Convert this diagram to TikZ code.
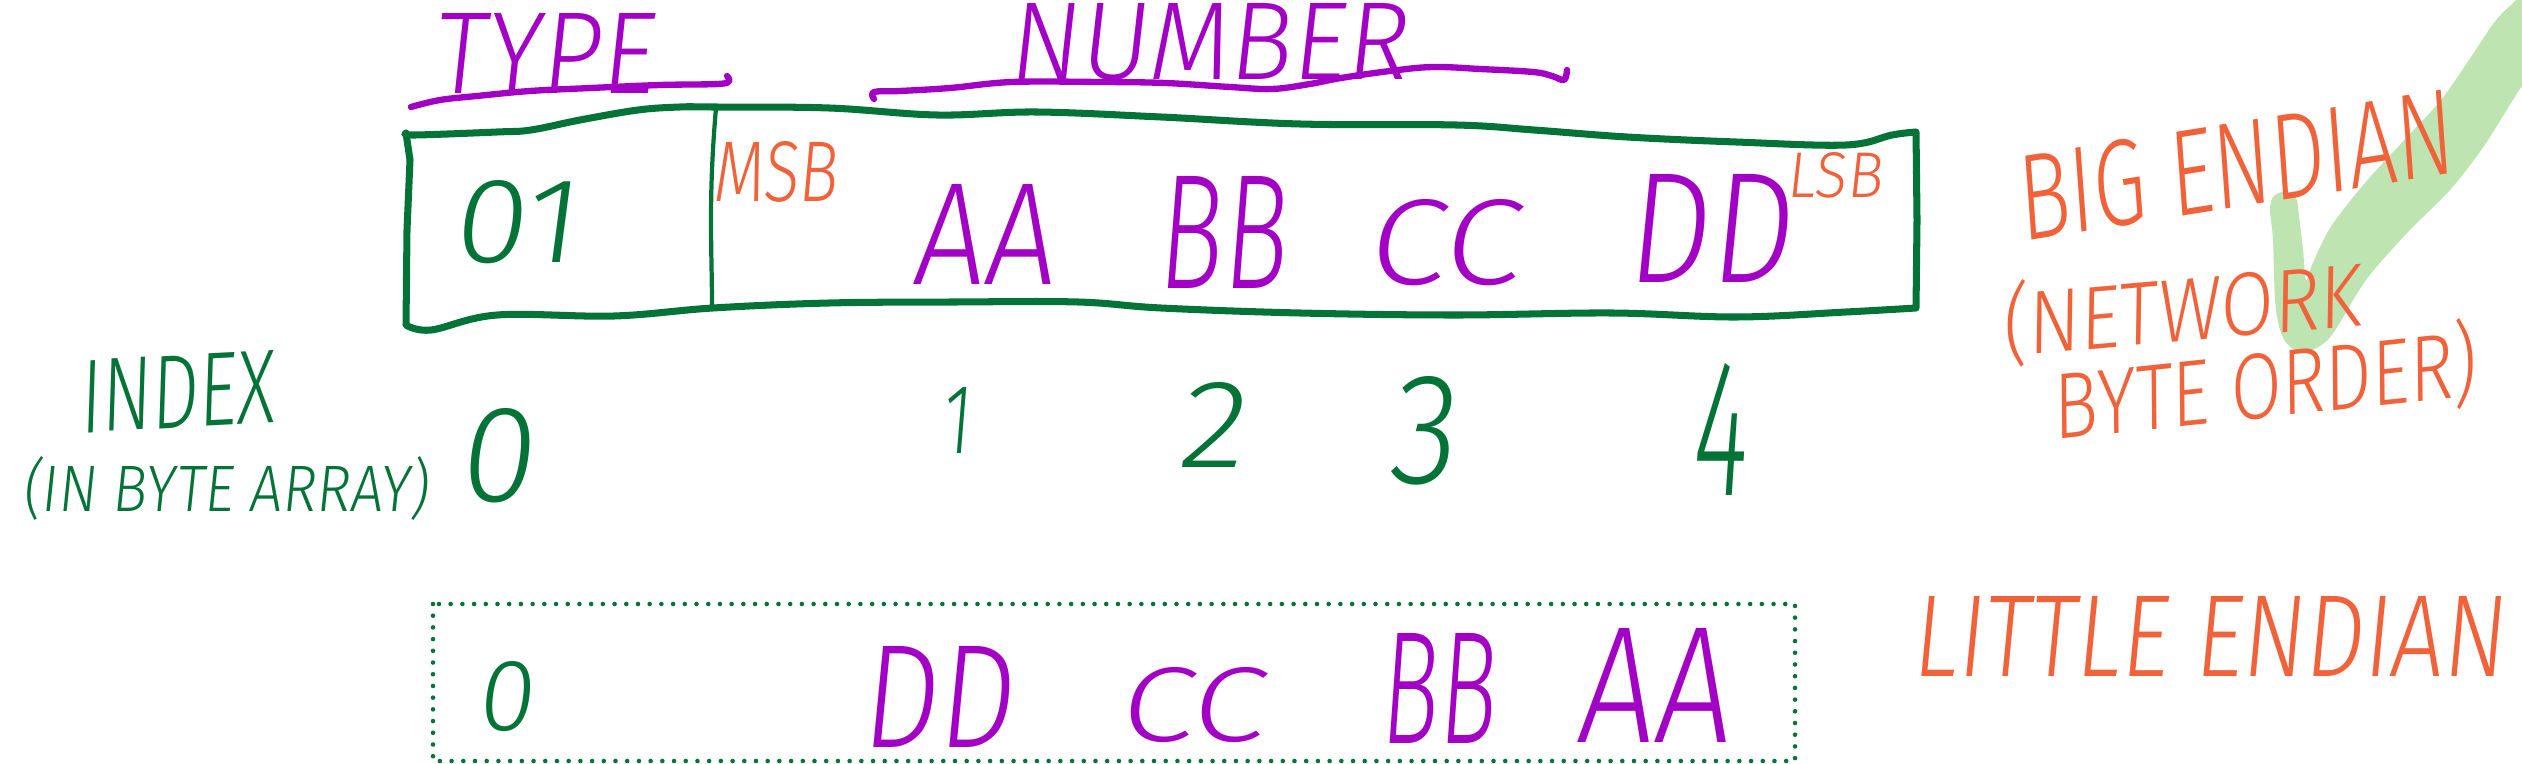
\documentclass[tikz,border=0pt]{standalone}
\usepackage{fontspec}
\usepackage{graphicx}
\newfontfamily\hand{Fira Sans}[UprightFont=* Light, FakeSlant=0.12]
\definecolor{pgreen}{HTML}{047338}
\definecolor{ppurple}{HTML}{A300C6}
\definecolor{porange}{HTML}{F0623A}
\definecolor{pcheck}{HTML}{BEE4B1}
\newcommand\hw[3]{\resizebox{#1}{#2}{\hand #3}}
\tikzset{
  txt/.style={inner sep=0pt, outer sep=0pt, anchor=center},
  gtxt/.style={txt, text=pgreen},
  ptxt/.style={txt, text=ppurple},
  otxt/.style={txt, text=porange},
  boxline/.style={draw=pgreen, line width=2pt, line cap=round, line join=round},
  divline/.style={draw=pgreen, line width=1.2pt, line cap=round},
  uline/.style={draw=ppurple, line width=1.8pt, line cap=round, line join=round},
  dotbox/.style={draw=pgreen, line width=1.3pt, line cap=round, dash pattern=on 0pt off 1.17mm}
}
\begin{document}
\begin{tikzpicture}[x=0.01cm, y=-0.01cm]
\useasboundingbox (0,0) rectangle (2522,764);
\clip (0,0) rectangle (2522,764);

% check mark
\fill[pcheck] plot[smooth cycle, tension=0.5] coordinates {
 (2283,192) (2296,198) (2299,217) (2303,250) (2306,280) (2312,265) (2330,228)
 (2364,184) (2407,137) (2441,100) (2471,57) (2493,24) (2510,6) (2535,-10)
 (2545,60) (2522,86) (2484,146) (2450,190) (2407,233) (2366,280) (2334,332)
 (2320,346) (2304,352) (2289,346) (2280,330) (2275,300) (2273,240) (2270,210) (2273,197)};

% big box
\draw[boxline] plot[smooth, tension=0.6] coordinates {
 (406,133) (415,135) (497,132) (531,130) (580,120) (638,110) (680,107) (713,107)
 (829,108) (937,115) (1036,112) (1161,117) (1300,124) (1456,125) (1534,130)
 (1627,137) (1736,142) (1846,145) (1892,135) (1916,132)}
 -- (1917,220) -- (1916,308)
 plot[smooth, tension=0.6] coordinates {
 (1916,308) (1846,312) (1736,317) (1612,313) (1456,315) (1300,313) (1161,308)
 (1078,302) (954,302) (829,303) (713,308) (614,316) (497,315) (431,330) (406,325)}
 -- (407,230) -- (410,160) -- (406,133);

\coordinate (divtop) at (716,108);
\coordinate (divbot) at (712,308);
\draw[divline] (divtop) .. controls (708,200) and (712,250) .. (divbot);

% underlines
\draw[uline] plot[smooth, tension=0.6] coordinates {
 (411,107) (440,100) (477,96) (530,91) (591,88) (660,85) (718,84) (729,81) (727,76)};
\draw[uline] plot[smooth, tension=0.6] coordinates {
 (874,99) (874,92) (900,91) (950,88) (1012,82) (1100,82) (1165,83) (1230,87)
 (1272,89) (1310,84) (1341,78) (1390,71) (1433,67) (1480,69) (1533,72) (1552,76) (1564,80) (1567,70)};

% dotted box
\draw[dotbox] (433,604) rectangle (1795,761);

% headings
\node[ptxt] (type) at (543,53) {\hw{2.2cm}{0.8cm}{TYPE}};
\node[ptxt] (number) at (1207,42) {\hw{3.98cm}{0.76cm}{NUMBER}};

% big endian box contents
\node[gtxt] (v01) at (514,222) {\hw{1.24cm}{0.82cm}{01}};
\node[otxt] (msb) at (775,172) {\hw{1.24cm}{0.6cm}{MSB}};
\node[ptxt] (aa1) at (982,234) {\hw{1.41cm}{1.0cm}{AA}};
\node[ptxt] (bb1) at (1221,232) {\hw{1.28cm}{1.12cm}{BB}};
\node[ptxt] (cc1) at (1442,243) {\hw{1.52cm}{0.85cm}{CC}};
\node[ptxt] (dd1) at (1708,228) {\hw{1.64cm}{1.08cm}{DD}};
\node[otxt] (lsb) at (1834,175) {\hw{0.95cm}{0.45cm}{LSB}};

% right labels
\node[otxt, rotate=9] (big) at (2233,166) {\hw{4.4cm}{0.85cm}{BIG ENDIAN}};
\node[otxt, rotate=5] (net) at (2180,310) {\hw{3.6cm}{0.75cm}{(NETWORK}};
\node[otxt, rotate=6] (byte) at (2263,385) {\hw{4.25cm}{0.78cm}{BYTE ORDER)}};

% index row
\node[gtxt, rotate=3] (index) at (176,392) {\hw{1.94cm}{0.72cm}{INDEX}};
\node[gtxt] (inarr) at (225,488) {\hw{4.05cm}{0.55cm}{(IN BYTE ARRAY)}};
\node[gtxt] (i0) at (495,456) {\hw{0.75cm}{0.93cm}{0}};
\node[gtxt] (i1) at (955,420) {\hw{0.28cm}{0.66cm}{1}};
\node[gtxt] (i2) at (1210,425) {\hw{0.67cm}{0.85cm}{2}};
\node[gtxt] (i3) at (1421,431) {\hw{0.67cm}{1.07cm}{3}};
\node[gtxt] (i4) at (1718,429) {\hw{0.55cm}{1.32cm}{4}};

% little endian box contents
\node[gtxt] (l0) at (505,697) {\hw{0.56cm}{0.69cm}{0}};
\node[ptxt] (dd2) at (936,697) {\hw{1.51cm}{1.01cm}{DD}};
\node[ptxt] (cc2) at (1190,705) {\hw{1.45cm}{0.74cm}{CC}};
\node[ptxt] (bb2) at (1437,688) {\hw{1.14cm}{1.1cm}{BB}};
\node[ptxt] (aa2) at (1652,685) {\hw{1.52cm}{1.14cm}{AA}};
\node[otxt] (little) at (2208,636) {\hw{5.92cm}{0.8cm}{LITTLE ENDIAN}};
\end{tikzpicture}
\end{document}
